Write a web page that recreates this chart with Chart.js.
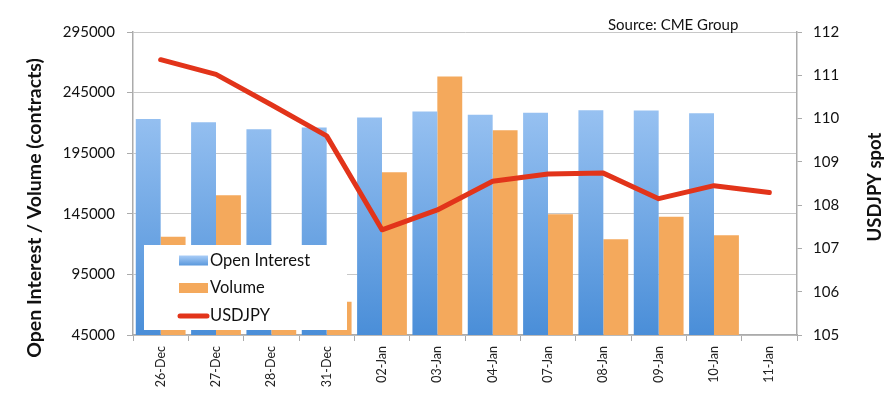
<!DOCTYPE html>
<html>
<head>
<meta charset="utf-8">
<script src="https://cdn.jsdelivr.net/npm/chart.js@4.4.1/dist/chart.umd.min.js"></script>
<style>
  html, body { margin: 0; padding: 0; background: #fff; }
  #wrap { width: 896px; height: 399px; }
</style>
</head>
<body>
<div id="wrap"><canvas id="cmeChart" width="896" height="399"></canvas></div>
<script>
// chart data
const dates = ['26-Dec', '27-Dec', '28-Dec', '31-Dec', '02-Jan', '03-Jan', '04-Jan', '07-Jan', '08-Jan', '09-Jan', '10-Jan', '11-Jan'];
const openInterest = [223300, 220600, 214800, 216200, 224400, 229400, 226700, 228300, 230500, 230200, 228000, null];
const volume = [126100, 160300, 108000, 72400, 179300, 258300, 214000, 144600, 123900, 142600, 127200, null];
const usdjpy = [111.36, 111.02, 110.32, 109.60, 107.43, 107.89, 108.55, 108.72, 108.74, 108.15, 108.45, 108.29];
const leftTicks = [45000, 95000, 145000, 195000, 245000, 295000];
const rightTicks = [105, 106, 107, 108, 109, 110, 111, 112];

const FONT = 'Lato, "Open Sans", sans-serif';
const AXIS_GREY = '#ababab';

// blue gradient like the Excel bars
function blueGradient(context) {
  const area = context.chart.chartArea;
  if (!area) return '#7fb2ec';
  const g = context.chart.ctx.createLinearGradient(0, area.top, 0, area.bottom);
  g.addColorStop(0, '#b2d3fa');
  g.addColorStop(1, '#4a8ed8');
  return g;
}

// legend box inside the plot, axis titles and source note
const extras = {
  id: 'extras',
  afterDraw(chart) {
    const ctx = chart.ctx;
    ctx.save();

    // legend
    ctx.fillStyle = '#ffffff';
    ctx.fillRect(144, 245, 203, 85);
    const rows = [
      { label: 'Open Interest', y: 260.5, kind: 'oi' },
      { label: 'Volume', y: 288, kind: 'vol' },
      { label: 'USDJPY', y: 316, kind: 'line' }
    ];
    rows.forEach(r => {
      if (r.kind === 'oi') {
        const g = ctx.createLinearGradient(0, r.y - 5, 0, r.y + 5);
        g.addColorStop(0, '#a9cdf7');
        g.addColorStop(1, '#5a98dc');
        ctx.fillStyle = g;
        ctx.fillRect(179, r.y - 5, 29, 10);
      } else if (r.kind === 'vol') {
        ctx.fillStyle = '#f4a95c';
        ctx.fillRect(179, r.y - 5, 29, 10);
      } else {
        ctx.strokeStyle = '#e2341a';
        ctx.lineWidth = 5;
        ctx.lineCap = 'round';
        ctx.beginPath();
        ctx.moveTo(180, r.y);
        ctx.lineTo(207, r.y);
        ctx.stroke();
      }
      ctx.fillStyle = '#111';
      ctx.font = '16.5px ' + FONT;
      ctx.textAlign = 'left';
      ctx.textBaseline = 'middle';
      ctx.fillText(r.label, 210, r.y);
    });

    // axis titles
    ctx.fillStyle = '#111';
    ctx.textAlign = 'center';
    ctx.textBaseline = 'middle';
    ctx.save();
    ctx.font = 'bold 19.5px ' + FONT;
    ctx.translate(35, 208);
    ctx.rotate(-Math.PI / 2);
    ctx.fillText('Open Interest / Volume (contracts)', 0, 0);
    ctx.restore();
    ctx.save();
    ctx.font = 'bold 18.5px ' + FONT;
    ctx.translate(875, 187);
    ctx.rotate(-Math.PI / 2);
    ctx.fillText('USDJPY spot', 0, 0);
    ctx.restore();

    // source
    ctx.font = '15px ' + FONT;
    ctx.textAlign = 'left';
    ctx.fillText('Source: CME Group', 608, 25);

    ctx.restore();
  }
};

const ctx = document.getElementById('cmeChart').getContext('2d');

new Chart(ctx, {
  type: 'bar',
  data: {
    labels: dates,
    datasets: [
      {
        type: 'line',
        label: 'USDJPY',
        data: usdjpy,
        yAxisID: 'y1',
        borderColor: '#e2341a',
        borderWidth: 5,
        borderCapStyle: 'round',
        borderJoinStyle: 'round',
        pointRadius: 0,
        tension: 0,
        order: 0
      },
      {
        label: 'Open Interest',
        data: openInterest,
        yAxisID: 'y',
        backgroundColor: blueGradient,
        borderWidth: 0,
        order: 1
      },
      {
        label: 'Volume',
        data: volume,
        yAxisID: 'y',
        backgroundColor: '#f4a95c',
        borderWidth: 0,
        order: 1
      }
    ]
  },
  options: {
    responsive: false,
    animation: false,
    layout: { padding: { top: 32, left: 0, right: 0, bottom: 0 } },
    datasets: {
      bar: { categoryPercentage: 0.9, barPercentage: 1.0 }
    },
    plugins: {
      legend: { display: false },
      tooltip: { enabled: false }
    },
    scales: {
      x: {
        afterFit(scale) { scale.height = 64; },
        border: { color: AXIS_GREY, width: 1.5 },
        grid: {
          offset: true,
          drawOnChartArea: false,
          tickLength: 6,
          tickColor: AXIS_GREY
        },
        ticks: {
          minRotation: 90,
          maxRotation: 90,
          padding: 5,
          color: '#222',
          font: { family: FONT, size: 12.5 }
        }
      },
      y: {
        position: 'left',
        min: 45000,
        max: 295000,
        afterFit(scale) { scale.width = 133; },
        afterBuildTicks(scale) { scale.ticks = leftTicks.map(v => ({ value: v })); },
        border: { color: AXIS_GREY, width: 1.5 },
        grid: {
          color: '#c8c8c8',
          lineWidth: 1,
          borderDash: [1, 4],
          tickLength: 6,
          tickColor: AXIS_GREY,
          tickBorderDash: []
        },
        ticks: {
          padding: 12,
          color: '#111',
          font: { family: FONT, size: 15 },
          callback: v => String(v)
        }
      },
      y1: {
        position: 'right',
        min: 105,
        max: 112,
        afterFit(scale) { scale.width = 99; },
        afterBuildTicks(scale) { scale.ticks = rightTicks.map(v => ({ value: v })); },
        border: { color: AXIS_GREY, width: 1.5 },
        grid: {
          drawOnChartArea: false,
          tickLength: 5,
          tickColor: AXIS_GREY
        },
        ticks: {
          padding: 11,
          color: '#111',
          font: { family: FONT, size: 15 },
          callback: v => String(v)
        }
      }
    }
  },
  plugins: [extras]
});
</script>
</body>
</html>
